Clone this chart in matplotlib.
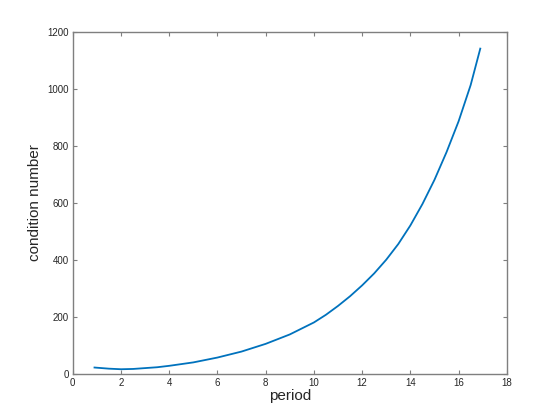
from matplotlib import pyplot as plt

# values
period = [0.9, 1.5, 2, 2.5, 3, 3.5, 4, 5, 6, 7, 8, 9, 10, 10.5, 11, 11.5, 12, 12.5,
          13, 13.5, 14, 14.5, 15, 15.5, 16, 16.5, 16.9]
cond_number = [22, 18, 16, 17, 20, 23, 28, 40, 57, 78, 105, 138, 180, 207, 238, 272, 310, 352,
               400, 455, 520, 595, 680, 777, 885, 1012, 1140]

xticks = list(range(0, 19, 2))
yticks = list(range(0, 1201, 200))

plt.rcParams['font.family'] = ['Liberation Sans', 'DejaVu Sans']

fig = plt.figure(figsize=(5.6, 4.2), dpi=100)
ax = fig.add_axes([0.13, 0.11, 0.775, 0.815])

ax.plot(period, cond_number, color='#0072BD', linewidth=1.3)

ax.set_xlim(0, 18)
ax.set_ylim(0, 1200)
ax.set_xticks(xticks)
ax.set_yticks(yticks)

axis_grey = '#7f7f7f'
for s in ax.spines.values():
    s.set_color(axis_grey)
    s.set_linewidth(1.0)
ax.tick_params(direction='in', length=3, width=0.8, color=axis_grey,
               labelsize=7, labelcolor='#262626', top=True, right=True, pad=3)

ax.set_xlabel('period', fontsize=11, color='#262626', labelpad=1)
ax.set_ylabel('condition number', fontsize=11, color='#262626', labelpad=4)

fig.savefig('out.png', dpi=100)
